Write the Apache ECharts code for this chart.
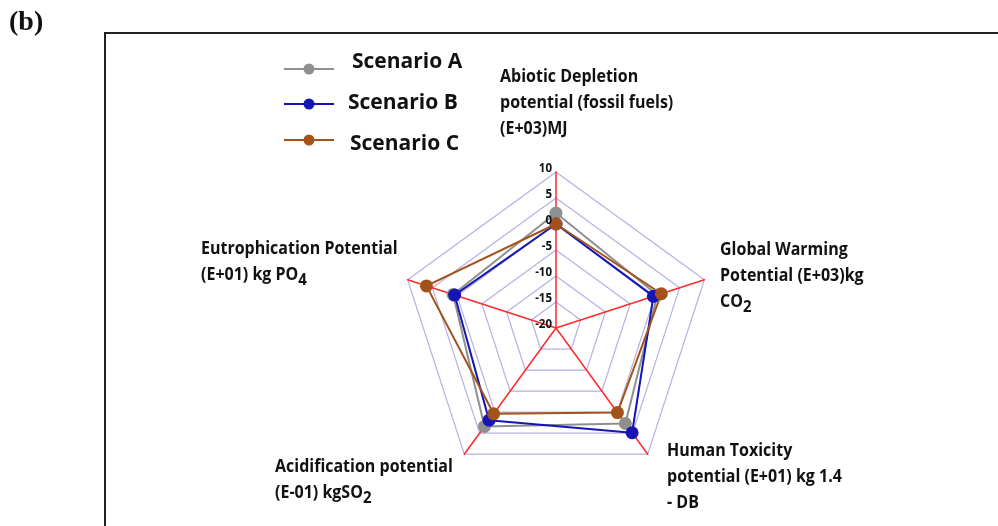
<!DOCTYPE html>
<html>
<head>
<meta charset="utf-8">
<script src="https://cdn.jsdelivr.net/npm/echarts@6/dist/echarts.min.js"></script>
<style>
  html, body { margin: 0; padding: 0; background: #fff; }
  #chart { width: 998px; height: 526px; }
</style>
</head>
<body>
<div id="chart"></div>
<script>
// Impact categories, clockwise from the top
const categories = [
  'Abiotic Depletion potential (fossil fuels) (E+03)MJ',
  'Global Warming Potential (E+03)kg CO2',
  'Human Toxicity potential (E+01) kg 1.4 - DB',
  'Acidification potential (E-01) kgSO2',
  'Eutrophication Potential (E+01) kg PO4'
];
const seriesNames = ['Scenario A', 'Scenario B', 'Scenario C'];
const scenarioA = [2.1, 0.5, 2.7, 3.4, 0.8];
const scenarioB = [0.0, -0.3, 4.9, 1.9, 0.5];
const scenarioC = [0.0, 1.3, 0.1, 0.4, 6.2];
const tickLabels = [-20, -15, -10, -5, 0, 5, 10];
const axisMin = -20, axisMax = 10;
const colors = ['#8f8f8f', '#1515b5', '#a3521a'];

// ECharts lays radar indicators out counter-clockwise; reorder so they run clockwise
const order = [0, 4, 3, 2, 1];
const reorder = arr => order.map(i => arr[i]);

const chart = echarts.init(document.getElementById('chart'), null, { renderer: 'canvas' });

const FONT = 'Open Sans';
const rich = {
  sub: { fontFamily: FONT, fontWeight: 'bold', fontSize: 15, padding: [10, 0, 0, 0], color: '#111' }
};

function txt(x, y, text) {
  return {
    type: 'text', x: x, y: y, z: 10, scaleY: 1.08,
    style: { text: text, lineHeight: 24, rich: rich, fontFamily: FONT, fontWeight: 'bold', fill: '#111', fontSize: 16 }
  };
}

const datasets = [scenarioA, scenarioB, scenarioC];

chart.setOption({
  animation: false,
  backgroundColor: '#fff',
  radar: {
    center: [556, 328],
    radius: 156,
    startAngle: 90,
    splitNumber: 6,
    shape: 'polygon',
    indicator: reorder(categories).map(name => ({ name: name, min: axisMin, max: axisMax })),
    axisName: { show: false },
    axisLine: { lineStyle: { color: '#ff2a2a', width: 1.5 } },
    splitLine: { lineStyle: { color: '#b7b0e2', width: 1.2 } },
    splitArea: { show: false },
    axisTick: { show: false },
    axisLabel: { show: false }
  },
  series: [{
    type: 'radar',
    symbol: 'circle',
    symbolSize: 13,
    data: datasets.map((d, i) => ({
      name: seriesNames[i],
      value: reorder(d),
      itemStyle: { color: colors[i] },
      lineStyle: { color: colors[i], width: 2 }
    }))
  }]
});

// Tick labels along the first (top) axis, placed through the radar's own scale
const radarCS = chart.getModel().getComponent('radar').coordinateSystem;
const tickGraphics = tickLabels.map(v => {
  const p = radarCS.dataToPoint(v, 0);
  return {
    type: 'text', x: p[0] - 4, y: p[1] - 3, z: 10,
    style: { text: String(v), align: 'right', verticalAlign: 'middle', fontFamily: FONT, fontWeight: 'bold', fontSize: 11.5, fill: '#111' }
  };
});

// Legend: line with a round marker, then the scenario name
const legendLineY = [69, 104, 140];
const legendTextY = [62, 103, 144];
const legendTextX = [352, 348, 350];
const legendGraphics = [];
seriesNames.forEach((name, i) => {
  const y = legendLineY[i];
  legendGraphics.push(
    { type: 'line', shape: { x1: 284, y1: y, x2: 334, y2: y }, style: { stroke: colors[i], lineWidth: 2 }, z: 10 },
    { type: 'circle', shape: { cx: 309, cy: y, r: 5.5 }, style: { fill: colors[i] }, z: 11 },
    { type: 'text', x: legendTextX[i], y: legendTextY[i], z: 10, style: { text: name, verticalAlign: 'middle', fontFamily: FONT, fontWeight: 'bold', fontSize: 21, fill: '#111' } }
  );
});

chart.setOption({
  graphic: [
    { type: 'rect', shape: { x: 105, y: 33, width: 1000, height: 600 }, style: { fill: 'none', stroke: '#222', lineWidth: 2 } },
    { type: 'text', x: 9, y: 9, style: { text: '(b)', fontFamily: 'Liberation Serif', fontWeight: 'bold', fontSize: 28, fill: '#111' } },
    txt(500, 64, 'Abiotic Depletion\npotential (fossil fuels)\n(E+03)MJ'),
    txt(720, 237, 'Global Warming\nPotential (E+03)kg\nCO{sub|2}'),
    txt(667, 438, 'Human Toxicity\npotential (E+01) kg 1.4\n- DB'),
    txt(275, 454, 'Acidification potential\n(E-01) kgSO{sub|2}'),
    txt(201, 236, 'Eutrophication Potential\n(E+01) kg PO{sub|4}')
  ].concat(tickGraphics, legendGraphics)
});
</script>
</body>
</html>
